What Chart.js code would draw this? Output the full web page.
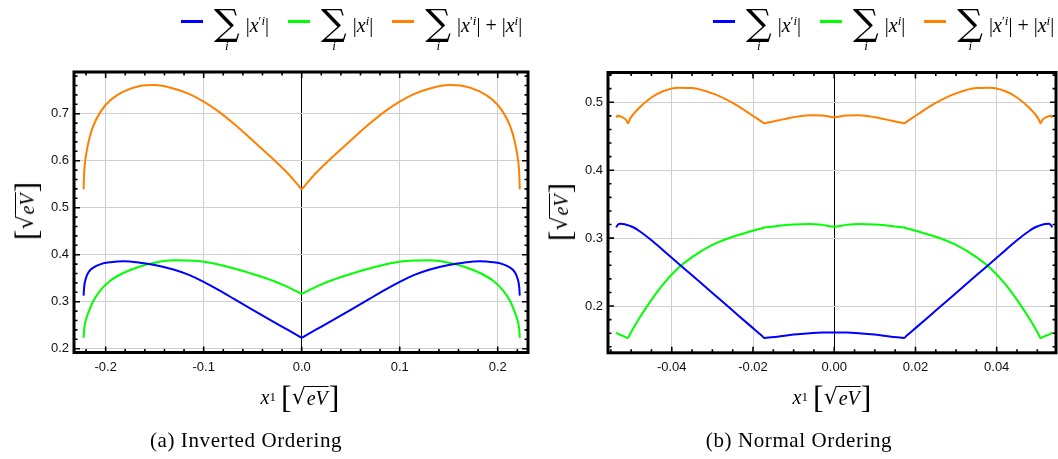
<!DOCTYPE html>
<html>
<head>
<meta charset="utf-8">
<script src="https://cdn.jsdelivr.net/npm/chart.js@4.4.1/dist/chart.umd.min.js"></script>
<style>
  html, body { margin: 0; padding: 0; background: #fff; }
  #page { position: relative; width: 1058px; height: 459px; overflow: hidden; background: #fff;
          font-family: "Liberation Serif", "DejaVu Serif", serif; color: #000; }
  canvas { position: absolute; top: 0; }
  .legend { position: absolute; top: 0; height: 56px; display: flex; align-items: flex-start; white-space: nowrap; }
  .item { display: flex; align-items: flex-start; margin-right: 19px; }
  .swatch { width: 22px; height: 2.5px; margin-top: 20px; margin-right: 11px; }
  .sum { display: inline-flex; flex-direction: column; align-items: center; margin-right: 6px; }
  .sum .op { font-family: "DejaVu Serif", serif; font-size: 36px; line-height: 36px; margin-top: 5px; font-weight: 300; }
  .sum .idx { font-style: italic; font-size: 13px; line-height: 13px; margin-top: -2px; }
  .expr { font-size: 20px; line-height: 20px; margin-top: 15px; }
  .expr i { font-style: italic; }
  .expr sup { font-size: 13px; vertical-align: 7px; line-height: 0; }
  .unit { position: absolute; white-space: nowrap; font-size: 20px; display: flex; align-items: center; }
  .br { font-size: 32px; line-height: 32px; font-weight: 300; }
  .rad { display: inline-flex; align-items: flex-end; }
  .rad .root { font-family: "DejaVu Serif", serif; font-size: 22px; line-height: 24px; }
  .rad .under { border-top: 1px solid #000; font-style: italic; line-height: 20px; padding: 1px 1px 0 1px; margin-bottom: 1px; }
  .ytitle { transform: translate(-50%, -50%) rotate(-90deg); }
  .xtitle { transform: translate(-50%, -50%); }
  .xtitle sup { font-size: 13px; vertical-align: 8px; line-height: 0; font-style: normal; }
  .caption { position: absolute; font-size: 21px; letter-spacing: 0.6px; white-space: nowrap; transform: translate(-50%, -50%); }
</style>
</head>
<body>
<div id="page">
  <canvas id="inverted" width="545" height="420" style="left:0px"></canvas>
  <canvas id="normal" width="513" height="420" style="left:545px"></canvas>

  <div class="legend" id="legendA" style="left:181px"></div>
  <div class="legend" id="legendB" style="left:713px"></div>

  <div class="unit ytitle" style="left:26px; top:211px">
    <span class="br">[</span><span class="rad"><span class="root">√</span><span class="under">eV</span></span><span class="br">]</span>
  </div>
  <div class="unit ytitle" style="left:560px; top:212px">
    <span class="br">[</span><span class="rad"><span class="root">√</span><span class="under">eV</span></span><span class="br">]</span>
  </div>

  <div class="unit xtitle" style="left:300px; top:397px">
    <i>x</i><sup>1</sup>&nbsp;<span class="br">[</span><span class="rad"><span class="root">√</span><span class="under">eV</span></span><span class="br">]</span>
  </div>
  <div class="unit xtitle" style="left:832px; top:397px">
    <i>x</i><sup>1</sup>&nbsp;<span class="br">[</span><span class="rad"><span class="root">√</span><span class="under">eV</span></span><span class="br">]</span>
  </div>

  <div class="caption" style="left:246px; top:440px">(a) Inverted Ordering</div>
  <div class="caption" style="left:799px; top:440px">(b) Normal Ordering</div>
</div>

<script>
// ---------- Inverted ordering: x¹ samples and the three sums ----------
const xInverted = [
  -0.2225, -0.222, -0.220, -0.217, -0.213, -0.205, -0.195, -0.182, -0.165, -0.150, -0.130,
  -0.115, -0.100, -0.085, -0.070, -0.050, -0.030, -0.015, -0.004, 0,
  0.004, 0.015, 0.030, 0.050, 0.070, 0.085, 0.100, 0.115, 0.130, 0.150, 0.165, 0.182, 0.195, 0.205,
  0.213, 0.217, 0.220, 0.222, 0.2225
];
const primedInverted = [
  0.313, 0.330, 0.351, 0.364, 0.372, 0.380, 0.384, 0.386, 0.383, 0.378, 0.368,
  0.357, 0.342, 0.325, 0.307, 0.2825, 0.2585, 0.241, 0.228, 0.2235,
  0.228, 0.241, 0.2585, 0.2825, 0.307, 0.325, 0.342, 0.357, 0.368, 0.378, 0.383, 0.386, 0.384, 0.380,
  0.372, 0.364, 0.351, 0.330, 0.313
];
const plainInverted = [
  0.223, 0.240, 0.262, 0.280, 0.300, 0.325, 0.345, 0.361, 0.375, 0.383, 0.388,
  0.3875, 0.385, 0.379, 0.371, 0.359, 0.345, 0.332, 0.321, 0.317,
  0.321, 0.332, 0.345, 0.359, 0.371, 0.379, 0.385, 0.3875, 0.388, 0.383, 0.375, 0.361, 0.345, 0.325,
  0.300, 0.280, 0.262, 0.240, 0.223
];
const totalInverted = [
  0.539, 0.572, 0.612, 0.644, 0.672, 0.705, 0.729, 0.747, 0.759, 0.761, 0.753,
  0.742, 0.7255, 0.705, 0.680, 0.643, 0.605, 0.575, 0.549, 0.540,
  0.549, 0.575, 0.605, 0.643, 0.680, 0.705, 0.7255, 0.742, 0.753, 0.761, 0.759, 0.747, 0.729, 0.705,
  0.672, 0.644, 0.612, 0.572, 0.539
];

// ---------- Normal ordering ----------
const xNormal = [
  -0.0537, -0.0533, -0.0528, -0.0520, -0.0512, -0.0508, -0.0503, -0.0495, -0.048, -0.045, -0.042,
  -0.0384, -0.035, -0.030, -0.025, -0.0205, -0.0178, -0.0172, -0.0166, -0.014, -0.010, -0.006,
  -0.003, 0,
  0.003, 0.006, 0.010, 0.014, 0.0166, 0.0172, 0.0178, 0.0205, 0.025, 0.030, 0.035,
  0.0384, 0.042, 0.045, 0.048, 0.0495, 0.0503, 0.0508, 0.0512, 0.0520, 0.0528, 0.0533, 0.0537
];
const primedNormal = [
  0.316, 0.3195, 0.3212, 0.3207, 0.3197, 0.319, 0.318, 0.316, 0.3105, 0.297, 0.2815,
  0.2628, 0.2452, 0.2193, 0.1934, 0.1701, 0.1562, 0.153, 0.1534, 0.155, 0.158, 0.160,
  0.161, 0.161,
  0.161, 0.160, 0.158, 0.155, 0.1534, 0.153, 0.1562, 0.1701, 0.1934, 0.2193, 0.2452,
  0.2628, 0.2815, 0.297, 0.3105, 0.316, 0.318, 0.319, 0.3197, 0.3207, 0.3212, 0.3195, 0.316
];
const plainNormal = [
  0.161, 0.1595, 0.158, 0.156, 0.154, 0.153, 0.1585, 0.167, 0.182, 0.209, 0.233,
  0.256, 0.272, 0.290, 0.302, 0.310, 0.3145, 0.3155, 0.316, 0.318, 0.320, 0.3208,
  0.3195, 0.317,
  0.3195, 0.3208, 0.320, 0.318, 0.316, 0.3155, 0.3145, 0.310, 0.302, 0.290, 0.272,
  0.256, 0.233, 0.209, 0.182, 0.167, 0.1585, 0.153, 0.154, 0.156, 0.158, 0.1595, 0.161
];
const totalNormal = [
  0.4775, 0.480, 0.4795, 0.4775, 0.4735, 0.469, 0.4755, 0.482, 0.492, 0.507, 0.5165,
  0.5215, 0.521, 0.513, 0.499, 0.482, 0.4712, 0.469, 0.4698, 0.473, 0.478, 0.4808,
  0.4805, 0.478,
  0.4805, 0.4808, 0.478, 0.473, 0.4698, 0.469, 0.4712, 0.482, 0.499, 0.513, 0.521,
  0.5215, 0.5165, 0.507, 0.492, 0.482, 0.4755, 0.469, 0.4735, 0.4775, 0.4795, 0.480, 0.4775
];

// Axis tick labels
const invertedXTicks = ['-0.2', '-0.1', '0.0', '0.1', '0.2'];
const invertedYTicks = ['0.2', '0.3', '0.4', '0.5', '0.6', '0.7'];
const normalXTicks = ['-0.04', '-0.02', '0.00', '0.02', '0.04'];
const normalYTicks = ['0.2', '0.3', '0.4', '0.5'];

const seriesNames = ['Σ_i |x\u2032^i|', 'Σ_i |x^i|', 'Σ_i |x\u2032^i| + |x^i|'];
const seriesColors = ['#0000ff', '#00ff00', '#ff8000'];

// Legend entries written as small HTML formulas
const legendBodies = [
  '|<i>x</i><sup>\u2032<i>i</i></sup>|',
  '|<i>x</i><sup><i>i</i></sup>|',
  '|<i>x</i><sup>\u2032<i>i</i></sup>| + |<i>x</i><sup><i>i</i></sup>|'
];

function buildLegend(el) {
  el.innerHTML = legendBodies.map((body, k) =>
    `<div class="item"><div class="swatch" style="background:${seriesColors[k]}"></div>` +
    `<div class="sum"><span class="op">\u2211</span><span class="idx">i</span></div>` +
    `<div class="expr">${body}</div></div>`).join('');
}
buildLegend(document.getElementById('legendA'));
buildLegend(document.getElementById('legendB'));

function zip(xs, ys) { return xs.map((x, k) => ({ x, y: ys[k] })); }

// Frame with inward major/minor ticks on all four sides
const framePlugin = {
  id: 'frameTicks',
  afterDatasetsDraw(chart, args, opts) {
    const { ctx, chartArea: a, scales: { x, y } } = chart;
    ctx.save();
    ctx.strokeStyle = '#000';
    ctx.lineWidth = 1.6;
    const eps = 1e-9;
    const walk = (scale, minor, major, fn) => {
      const start = Math.ceil((scale.min - eps) / minor);
      const end = Math.floor((scale.max + eps) / minor);
      for (let k = start; k <= end; k++) {
        const v = k * minor;
        const r = v / major;
        const isMajor = Math.abs(r - Math.round(r)) < 1e-6;
        fn(scale.getPixelForValue(v), isMajor ? opts.majorLen : opts.minorLen);
      }
    };
    ctx.beginPath();
    walk(x, opts.xMinor, opts.xMajor, (px, len) => {
      ctx.moveTo(px, a.bottom); ctx.lineTo(px, a.bottom - len);
      ctx.moveTo(px, a.top); ctx.lineTo(px, a.top + len);
    });
    walk(y, opts.yMinor, opts.yMajor, (py, len) => {
      ctx.moveTo(a.left, py); ctx.lineTo(a.left + len, py);
      ctx.moveTo(a.right, py); ctx.lineTo(a.right - len, py);
    });
    ctx.stroke();
    ctx.lineWidth = 3;
    ctx.strokeRect(a.left, a.top, a.right - a.left, a.bottom - a.top);
    ctx.restore();
  }
};

function makeChart(id, xs, series, cfg) {
  const labelFor = (labels, lo, step) => (v) => {
    const k = Math.round((v - lo) / step);
    return labels[k] !== undefined ? labels[k] : '';
  };
  return new Chart(document.getElementById(id), {
    type: 'line',
    data: {
      datasets: series.map((ys, k) => ({
        label: seriesNames[k],
        data: zip(xs, ys),
        borderColor: seriesColors[k],
        backgroundColor: seriesColors[k],
        borderWidth: 2,
        pointRadius: 0,
        cubicInterpolationMode: 'monotone',
        fill: false
      }))
    },
    plugins: [framePlugin],
    options: {
      responsive: false,
      animation: false,
      devicePixelRatio: 1,
      layout: { padding: cfg.padding },
      plugins: {
        legend: { display: false },
        tooltip: { enabled: false },
        frameTicks: { xMinor: cfg.xMinor, xMajor: cfg.xStep, yMinor: cfg.yMinor, yMajor: cfg.yStep, majorLen: 6, minorLen: 3.5 }
      },
      scales: {
        x: {
          type: 'linear',
          min: cfg.xMin, max: cfg.xMax,
          afterFit: (s) => { s.height = 30; },
          border: { display: false },
          grid: {
            drawTicks: false,
            lineWidth: 1,
            color: (c) => (Math.abs(c.tick.value) < 1e-9 ? '#000' : '#cfcfcf')
          },
          ticks: {
            stepSize: cfg.xStep,
            includeBounds: false,
            maxRotation: 0,
            autoSkip: false,
            padding: 7,
            color: '#111',
            font: { family: 'Liberation Sans', size: 13 },
            callback: labelFor(cfg.xLabels, cfg.xFirst, cfg.xStep)
          }
        },
        y: {
          type: 'linear',
          min: cfg.yMin, max: cfg.yMax,
          afterFit: (s) => { s.width = cfg.yWidth; },
          border: { display: false },
          grid: { drawTicks: false, lineWidth: 1, color: '#cfcfcf' },
          ticks: {
            stepSize: cfg.yStep,
            includeBounds: false,
            autoSkip: false,
            padding: 5,
            color: '#111',
            font: { family: 'Liberation Sans', size: 13 },
            callback: labelFor(cfg.yLabels, cfg.yFirst, cfg.yStep)
          }
        }
      }
    }
  });
}

makeChart('inverted', xInverted, [primedInverted, plainInverted, totalInverted], {
  padding: { left: 0, top: 72, right: 17, bottom: 37.5 },
  yWidth: 74,
  xMin: -0.2323, xMax: 0.2309, xStep: 0.1, xMinor: 0.02, xFirst: -0.2, xLabels: invertedXTicks,
  yMin: 0.1919, yMax: 0.7887, yStep: 0.1, yMinor: 0.02, yFirst: 0.2, yLabels: invertedYTicks
});

makeChart('normal', xNormal, [primedNormal, plainNormal, totalNormal], {
  padding: { left: 0, top: 72.5, right: 2, bottom: 37.2 },
  yWidth: 63,
  xMin: -0.0557, xMax: 0.0546, xStep: 0.02, xMinor: 0.005, xFirst: -0.04, xLabels: normalXTicks,
  yMin: 0.1312, yMax: 0.5438, yStep: 0.1, yMinor: 0.02, yFirst: 0.2, yLabels: normalYTicks
});
</script>
</body>
</html>
